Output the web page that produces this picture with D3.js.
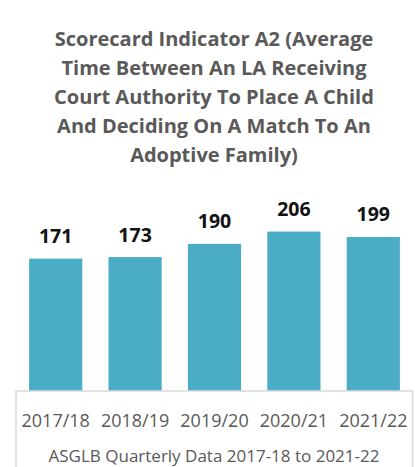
<!DOCTYPE html>
<html>
<head>
<meta charset="utf-8">
<script src="https://cdn.jsdelivr.net/npm/d3@7"></script>
<style>
  body { margin: 0; background: #fff; }
  svg { display: block; }
</style>
</head>
<body>
<div id="chart"></div>
<script>
var titleLines = [
  "Scorecard Indicator A2 (Average",
  "Time Between An LA Receiving",
  "Court Authority To Place A Child",
  "And Deciding On A Match To An",
  "Adoptive Family)"
];
var years = ["2017/18", "2018/19", "2019/20", "2020/21", "2021/22"];
var days = [171, 173, 190, 206, 199];
var axisTitle = "ASGLB Quarterly Data 2017-18 to 2021-22";

var width = 415, height = 467;
var baseY = 391;
var font = "'Open Sans', sans-serif";

var svg = d3.select("#chart")
  .append("svg")
    .attr("width", width)
    .attr("height", height);

/* title */
svg.append("g")
  .selectAll("text")
  .data(titleLines)
  .enter()
  .append("text")
    .attr("x", 214)
    .attr("y", function (d, i) { return 45.5 + i * 29; })
    .attr("text-anchor", "middle")
    .style("font-family", font)
    .style("font-weight", "bold")
    .style("font-size", "20px")
    .style("fill", "#595959")
    .text(function (d) { return d; });

var x = d3.scaleBand()
  .domain(years)
  .range([16, 413])
  .paddingInner(0.33)
  .paddingOuter(0.165);

var y = d3.scaleLinear()
  .domain([0, 250])
  .range([baseY, baseY - 193.5]);

/* bars */
svg.append("g")
  .selectAll("rect")
  .data(days)
  .enter()
  .append("rect")
    .attr("x", function (d, i) { return x(years[i]); })
    .attr("y", function (d) { return y(d); })
    .attr("width", x.bandwidth())
    .attr("height", function (d) { return baseY - y(d); })
    .style("fill", "#4bacc6");

/* value labels */
svg.append("g")
  .selectAll("text")
  .data(days)
  .enter()
  .append("text")
    .attr("x", function (d, i) { return x(years[i]) + x.bandwidth() / 2; })
    .attr("y", function (d) { return y(d) - 15.5; })
    .attr("text-anchor", "middle")
    .style("font-family", font)
    .style("font-weight", "bold")
    .style("font-size", "19.5px")
    .style("fill", "#111")
    .text(function (d) { return d; });

/* x axis box */
var axisG = svg.append("g")
  .attr("transform", "translate(0," + baseY + ")")
  .call(d3.axisBottom(x).tickSize(0));
axisG.select(".domain").remove();
axisG.selectAll("text")
  .attr("y", 35.5)
  .attr("dy", null)
  .style("font-family", font)
  .style("font-size", "18px")
  .style("fill", "#595959");

svg.append("path")
  .attr("d", "M16," + height + "V" + baseY + "H412.5V" + height)
  .style("fill", "none")
  .style("stroke", "#d9d9d9")
  .style("stroke-width", 1.5);

svg.append("text")
  .attr("x", 214)
  .attr("y", 461.5)
  .attr("text-anchor", "middle")
  .style("font-family", font)
  .style("font-size", "17px")
  .style("fill", "#595959")
  .text(axisTitle);
</script>
</body>
</html>
